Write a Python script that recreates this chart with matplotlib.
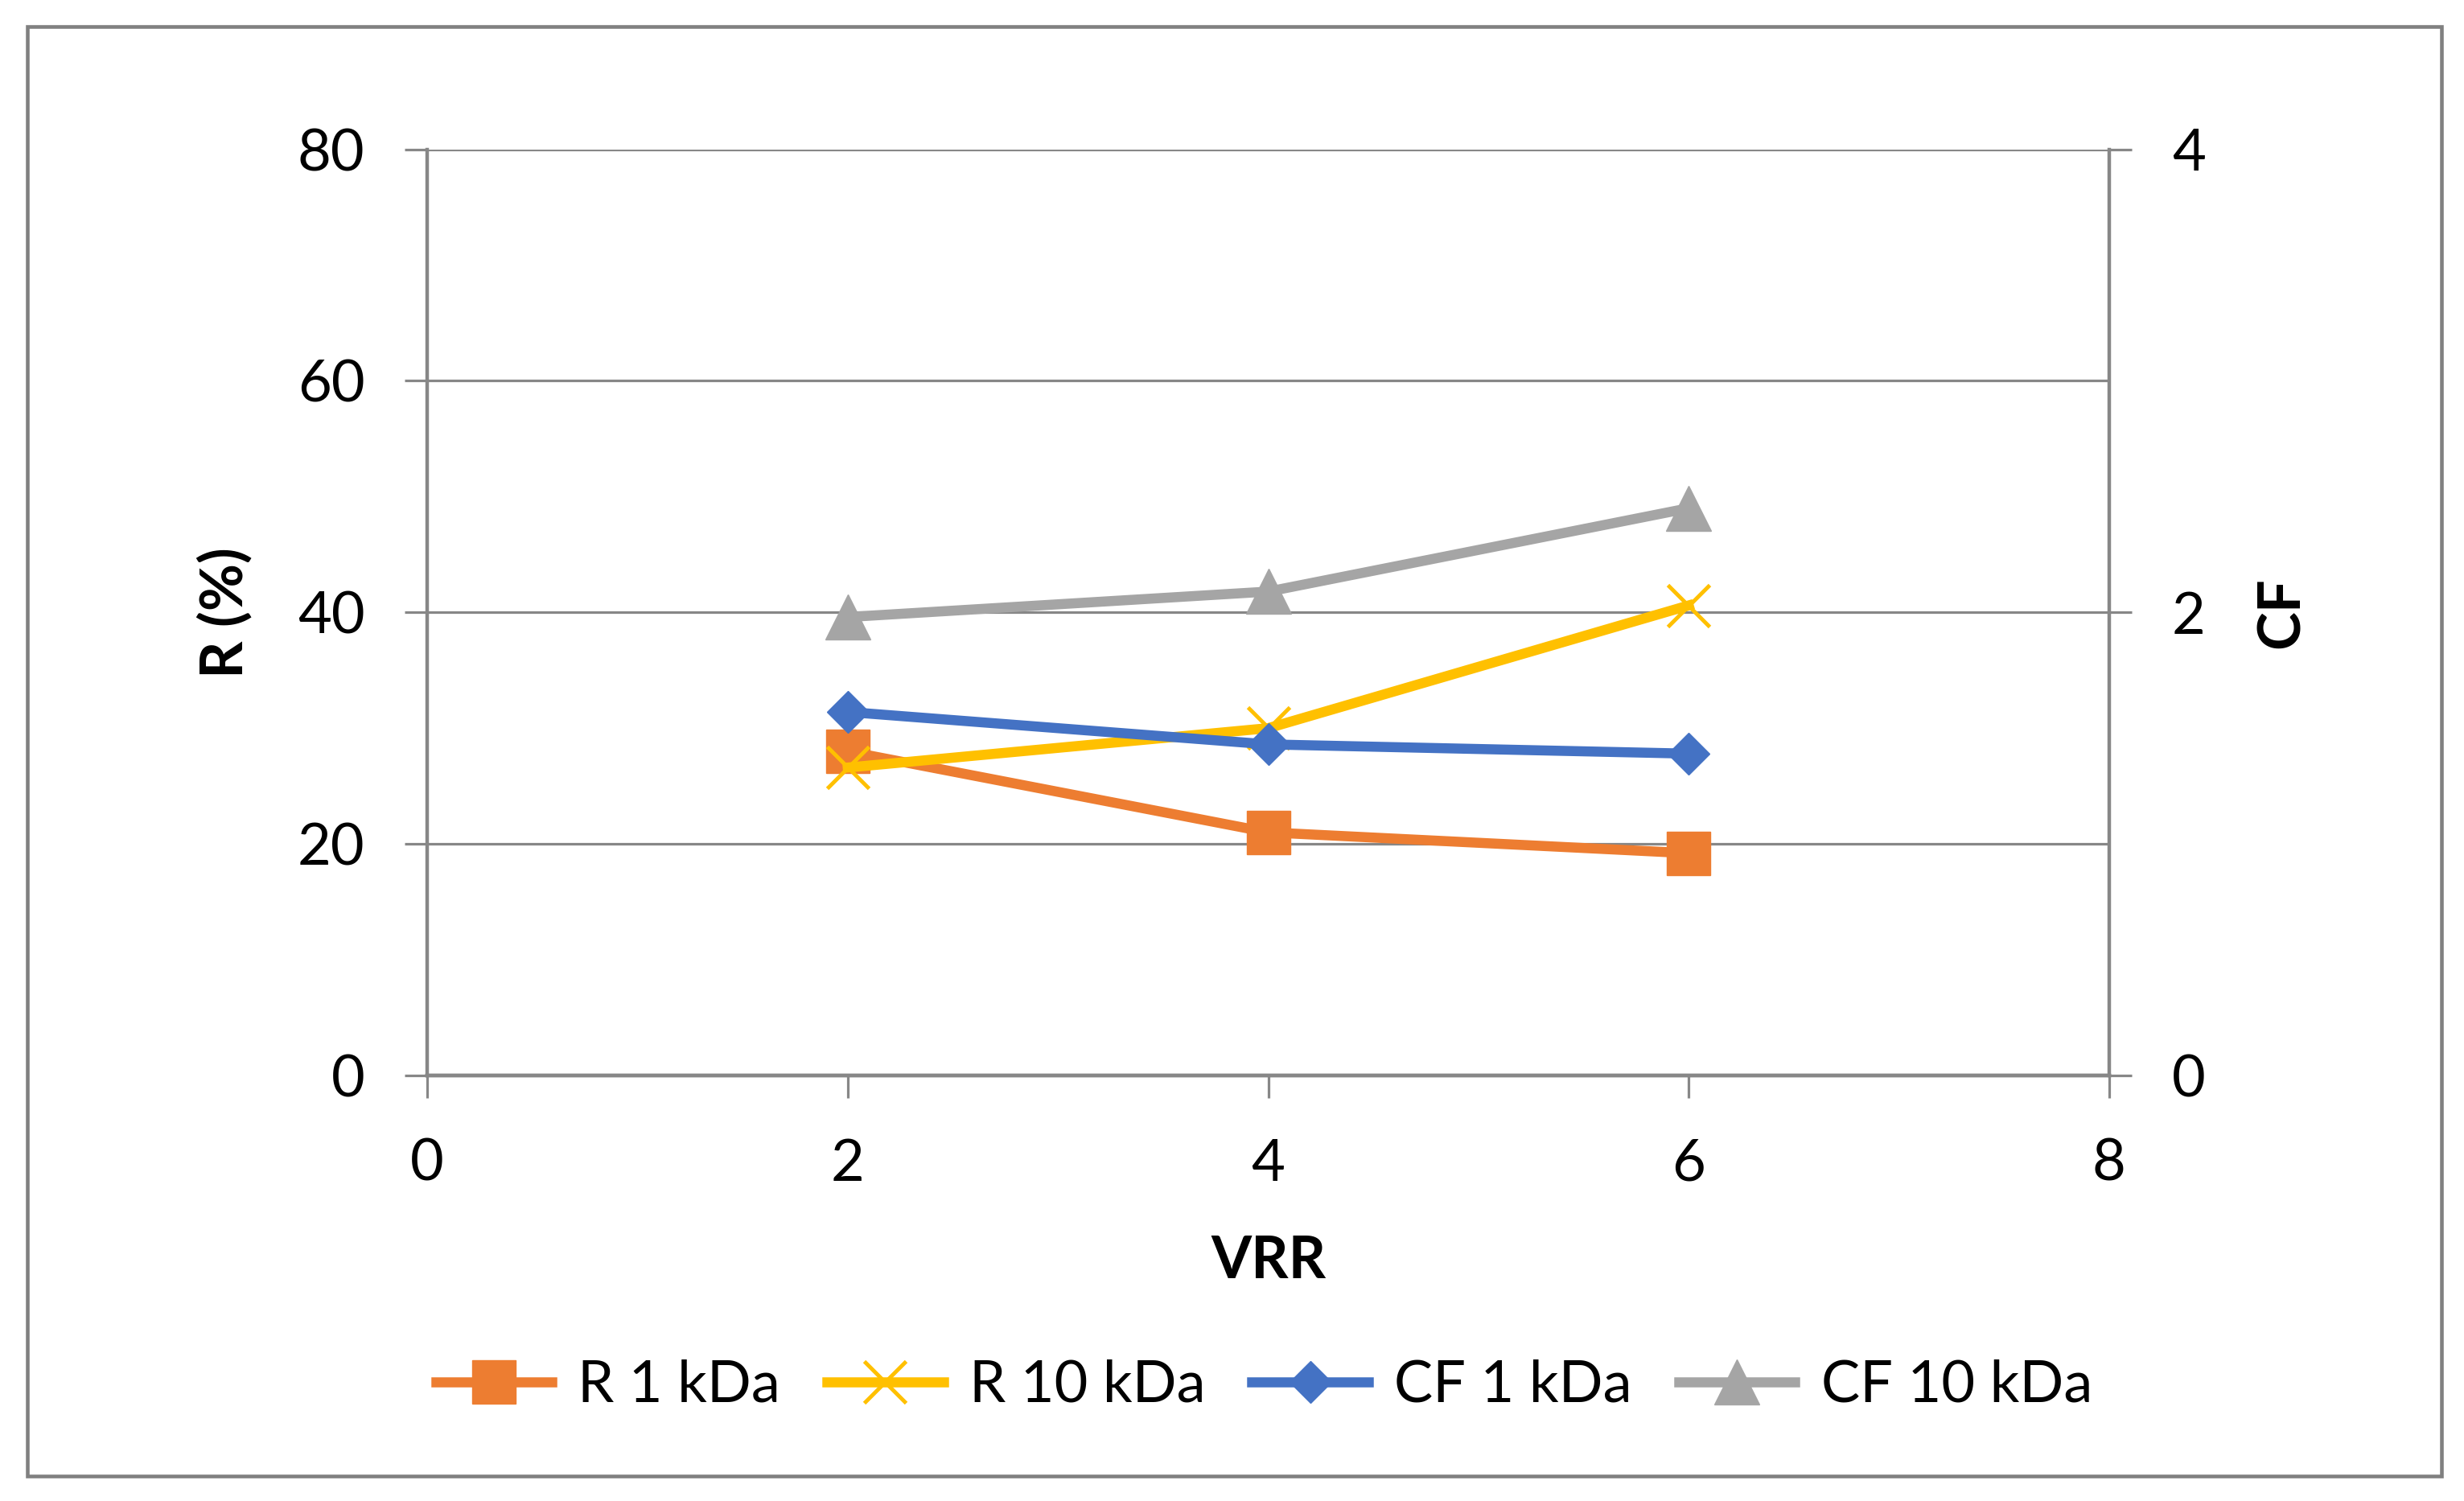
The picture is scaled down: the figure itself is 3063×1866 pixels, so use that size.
import matplotlib
matplotlib.use('Agg')
import matplotlib.pyplot as plt
from matplotlib.patches import Rectangle

# data
vrr = [2, 4, 6]
r_1kda = [28.0, 21.0, 19.2]
r_10kda = [26.6, 30.0, 40.6]
cf_1kda = [1.57, 1.43, 1.39]
cf_10kda = [1.98, 2.09, 2.45]

x_ticks = [0, 2, 4, 6, 8]
left_ticks = [0, 20, 40, 60, 80]
right_ticks = [0, 2, 4]

plt.rcParams['font.family'] = ['Lato', 'DejaVu Sans']
plt.rcParams['font.size'] = 52

grid_colour = '#878787'
orange = '#ED7D31'
yellow = '#FFC000'
blue = '#4472C4'
grey = '#A5A5A5'

fig = plt.figure(figsize=(30.63, 18.66), dpi=100)
ax = fig.add_axes([0.1734, 0.2835, 0.6826, 0.6170])
ax2 = ax.twinx()

lines = []
lines += ax.plot(vrr, r_1kda, color=orange, lw=9, marker='s', ms=39,
                 label='R 1 kDa', zorder=3)
lines += ax.plot(vrr, r_10kda, color=yellow, lw=9, marker='x', ms=37,
                 mew=3.5, label='R 10 kDa', zorder=3)
lines += ax2.plot(vrr, cf_1kda, color=blue, lw=9, marker='D', ms=26,
                  label='CF 1 kDa', zorder=3)
lines += ax2.plot(vrr, cf_10kda, color=grey, lw=9, marker='^', ms=40,
                  label='CF 10 kDa', zorder=3)

ax.set_xlim(0, 8)
ax.set_ylim(0, 80)
ax2.set_ylim(0, 4)
ax.set_xticks(x_ticks)
ax.set_yticks(left_ticks)
ax2.set_yticks(right_ticks)

ax.yaxis.grid(True, color=grid_colour, lw=2.3)
ax.set_axisbelow(True)

for a in (ax, ax2):
    a.spines['top'].set_visible(False)
    for side in ('left', 'right', 'bottom'):
        a.spines[side].set_color(grid_colour)
        a.spines[side].set_linewidth(3.2)
    a.tick_params(axis='both', length=20, width=2.3, color=grid_colour,
                  pad=36, labelsize=52)
ax2.spines['left'].set_visible(False)
ax.spines['right'].set_visible(False)

ax.set_xlabel('VRR', fontweight='bold', labelpad=40)
ax.set_ylabel('R (%)', fontweight='bold', labelpad=40)
ax2.set_ylabel('CF', fontweight='bold', labelpad=45)

fig.legend(handles=lines, loc='center', bbox_to_anchor=(0.513, 0.077),
           ncol=4, frameon=False, handlelength=2.0, handletextpad=0.45,
           columnspacing=0.8, fontsize=52)

# outer chart border
fig.patches.append(Rectangle((34 / 3063, 1 - 1835 / 1866),
                             (3035 - 34) / 3063, (1835 - 33) / 1866,
                             transform=fig.transFigure, fill=False,
                             edgecolor='#808080', lw=3.3))

fig.savefig('out.png', dpi=100)
